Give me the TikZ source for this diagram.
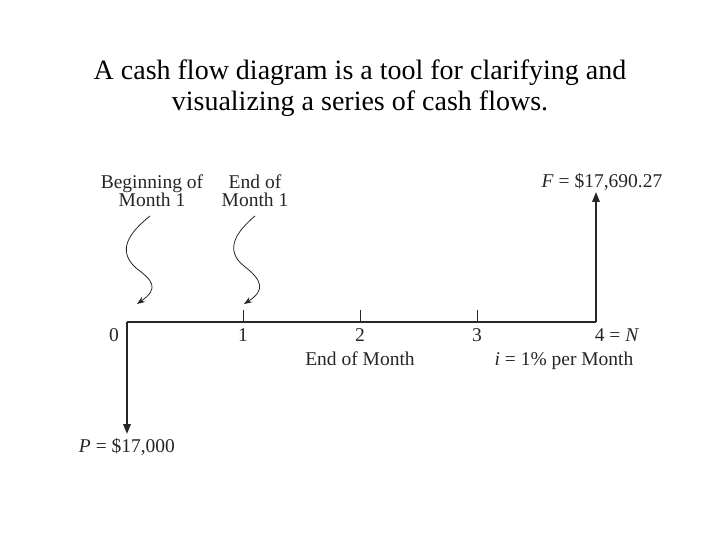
\documentclass[tikz,border=0pt]{standalone}
\usepackage{fontspec}
\setmainfont{Liberation Serif}
\usetikzlibrary{arrows.meta}
\begin{document}
\begin{tikzpicture}[x=1pt,y=-1pt,
  lbl/.style={font=\fontsize{19.5}{18}\selectfont, inner sep=0pt, text=black!85, anchor=base},
  axisline/.style={line width=1.8pt, black!85},
  flowarrow/.style={line width=1.8pt, black!85, -{Triangle[length=10pt,width=7.5pt]}},
  wavy/.style={line width=0.8pt, black!85, -{Stealth[length=8pt,width=6pt]}},
  tickline/.style={line width=0.8pt, black!85}]
\useasboundingbox (0,0) rectangle (720,540);
\node[font=\fontsize{28}{31}\selectfont, align=center] (title) at (360,88)
  {A cash flow diagram is a tool for clarifying and\\visualizing a series of cash flows.};
% axis
\coordinate (t0) at (127,322);
\coordinate (t1) at (243,322);
\coordinate (t2) at (360,322);
\coordinate (t3) at (477,322);
\coordinate (t4) at (596,322);
\coordinate (k1) at (243,310);
\coordinate (k2) at (360,310);
\coordinate (k3) at (477,310);
\coordinate (pend) at (127,434);
\coordinate (fend) at (596,192);
\draw[axisline] (t0) -- (t4);
\draw[tickline] (t1) -- (k1);
\draw[tickline] (t2) -- (k2);
\draw[tickline] (t3) -- (k3);
\draw[flowarrow] (t0) -- (pend);
\draw[flowarrow] (t4) -- (fend);
% labels
\node[lbl] (l0) at (114,341) {0};
\node[lbl] (l1) at (243,341) {1};
\node[lbl] (l2) at (360,341) {2};
\node[lbl] (l3) at (477,341) {3};
\node[lbl] (l4) at (617,341) {4 = \textit{N}};
\node[lbl] (eom) at (360,365) {End of Month};
\node[lbl] (rate) at (564,365) {\textit{i} = 1\% per Month};
\node[lbl] (P) at (127,452) {\textit{P} = \$17,000};
\node[lbl] (F) at (602,188) {\textit{F} = \$17,690.27};
\node[lbl] (bom) at (152,189) {Beginning of};
\node[lbl] (bom2) at (152,207) {Month 1};
\node[lbl] (eom1) at (255,189) {End of};
\node[lbl] (eom2) at (255,207) {Month 1};
% wavy pointers
\coordinate (w1s) at (150,216);
\coordinate (w1e) at (137,304);
\coordinate (w2s) at (255,216);
\coordinate (w2e) at (244,304);
\draw[wavy] (w1s) .. controls (130,232) and (116,250) .. (136,268)
  .. controls (152,280) and (160,288) .. (w1e);
\draw[wavy] (w2s) .. controls (236,232) and (224,250) .. (244,266)
  .. controls (262,280) and (266,290) .. (w2e);
\end{tikzpicture}
\end{document}
